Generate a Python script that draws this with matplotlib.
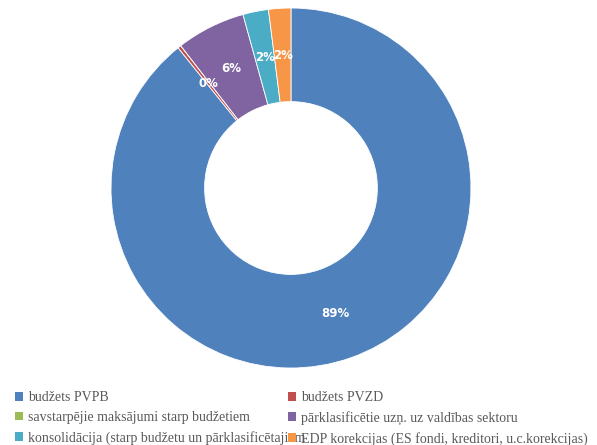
import matplotlib
matplotlib.use("Agg")
import matplotlib.pyplot as plt
from matplotlib.patches import Patch

categories = [
    "budžets PVPB",
    "budžets PVZD",
    "savstarpējie maksājumi starp budžetiem",
    "pārklasificētie uzņ. uz valdības sektoru",
    "konsolidācija (starp budžetu un pārklasificētajiem",
    "EDP korekcijas (ES fondi, kreditori, u.c.korekcijas)",
]
values = [89.3, 0.3, 0.0, 6.2, 2.3, 2.0]
colors = ["#4F81BD", "#C0504D", "#9BBB59", "#8064A2", "#4BACC6", "#F79646"]

fig = plt.figure(figsize=(5.97, 4.45), dpi=100)
ax = fig.add_axes([0.1859, 0.173, 0.603, 0.809])

def fmt(p):
    return f"{p:.0f}%" if p > 0.1 else ""

wedges, texts, autotexts = ax.pie(
    values, colors=colors, startangle=90, counterclock=False,
    radius=1.0, autopct=fmt, pctdistance=0.74,
    wedgeprops=dict(width=0.52, edgecolor="white", linewidth=0.6),
    textprops=dict(color="white", fontsize=8.5, fontweight="bold"),
)
ax.set_xlim(-1, 1)
ax.set_ylim(-1, 1)
ax.set_aspect("equal")
ax.axis("off")

handles = [Patch(facecolor=c, edgecolor="none") for c in colors]
common = dict(frameon=False, handlelength=0.6, handleheight=0.6,
              handletextpad=0.35, labelspacing=0.5, borderpad=0, borderaxespad=0,
              labelcolor="#595959", prop=dict(family="Liberation Serif", size=10))
leg1 = fig.legend([handles[i] for i in (0, 2, 4)], [categories[i] for i in (0, 2, 4)],
                  loc="upper left", bbox_to_anchor=(15 / 597, 1 - 391 / 445), **common)
leg2 = fig.legend([handles[i] for i in (1, 3, 5)], [categories[i] for i in (1, 3, 5)],
                  loc="upper left", bbox_to_anchor=(288 / 597, 1 - 391 / 445), **common)

fig.savefig("out.png", dpi=100)
